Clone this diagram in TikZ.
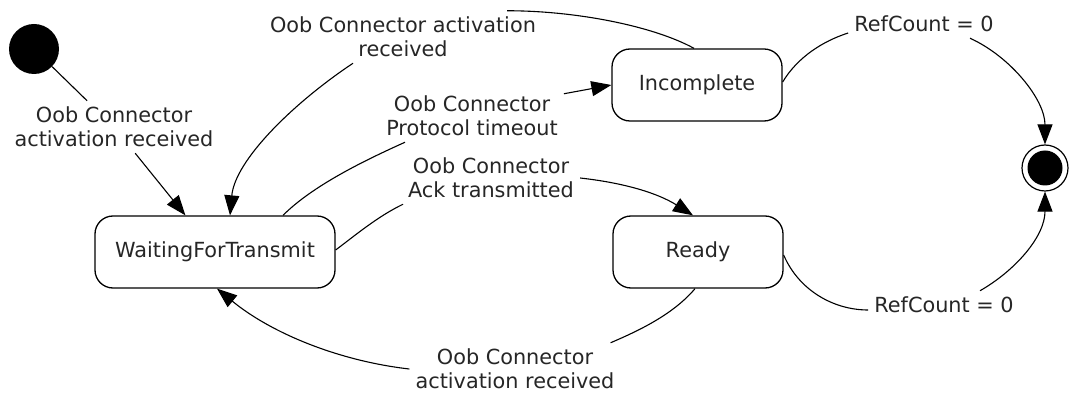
\documentclass[tikz,border=0pt]{standalone}
\usepackage{fontspec}
\setmainfont{DejaVu Sans}
\usetikzlibrary{arrows.meta}
\begin{document}
\begin{tikzpicture}[x=1pt,y=-1pt,
  lbl/.style={align=center, inner sep=6pt, text=black!85, font=\fontsize{20.8}{24}\selectfont},
  state/.style={draw, rounded corners=18pt, minimum height=72pt, line width=1.3pt, text=black!85, font=\fontsize{20.8}{24}\selectfont, inner sep=0pt},
  conn/.style={line width=1.1pt},
  arr/.style={conn, -{Triangle[length=20pt,width=15pt]}}]
\useasboundingbox (0,0) rectangle (1071,395);
% nodes
\node[circle, fill=black, minimum size=50pt, inner sep=0pt] (init) at (34,49) {};
\node[lbl] (l0) at (114,127) {Oob Connector\\activation received};
\node[state, minimum width=240pt] (wft) at (215,252) {WaitingForTransmit};
\node[lbl] (ltop) at (403,37) {Oob Connector activation\\received};
\node[state, minimum width=170pt] (inc) at (697,85) {Incomplete};
\node[lbl] (lpt) at (472,116) {Oob Connector\\Protocol timeout};
\node[lbl] (lack) at (491,178) {Oob Connector\\Ack transmitted};
\node[state, minimum width=170pt] (ready) at (698,252) {Ready};
\node[lbl] (lbot) at (515,369) {Oob Connector\\activation received};
\node[circle, draw, line width=1.2pt, minimum size=46pt, inner sep=0pt] (final) at (1045,168) {};
\fill (final.center) circle (17.5);
\node[lbl] (rc1) at (924,24) {RefCount = 0};
\node[lbl] (rc2) at (944,305) {RefCount = 0};
% connectors
\draw[conn] (init) -- (l0);
\draw[arr] (l0) -- (wft);
\draw[conn] ([xshift=-3pt]inc.north) .. controls +(-40,-22) and +(70,0) .. ([xshift=104pt]ltop.north);
\draw[arr] ([xshift=-50pt]ltop.south) .. controls +(-60,40) and +(5,-55) .. ([xshift=15pt]wft.north);
\draw[conn] ([xshift=68pt]wft.north) .. controls +(30,-30) and +(-40,18) .. ([xshift=-67pt]lpt.south);
\draw[arr] ([yshift=-4pt]lpt.north east) -- (inc.west);
\draw[conn] ([yshift=2pt]wft.east) .. controls +(20,-15) and +(-25,12) .. ([xshift=-88pt]lack.south);
\draw[arr] (lack.east) .. controls +(45,5) and +(-35,-22) .. ([xshift=-5pt]ready.north);
\draw[conn] ([xshift=-3pt]ready.south) .. controls +(-22,26) and +(28,-12) .. ([xshift=-10pt]lbot.north east);
\draw[arr] (lbot.west) .. controls +(-70,-8) and +(55,45) .. ([xshift=2pt]wft.south);
\draw[conn] ([yshift=3pt]inc.east) .. controls +(15,-25) and +(-25,8) .. ([yshift=-9pt]rc1.west);
\draw[arr] ([xshift=46pt]rc1.south) .. controls +(40,18) and +(0,-45) .. (final.north);
\draw[conn] ([yshift=-3pt]ready.east) .. controls +(15,35) and +(-35,0) .. ([yshift=-5pt]rc2.west);
\draw[arr] ([xshift=36pt]rc2.north) .. controls +(35,-20) and +(0,45) .. (final.south);
\end{tikzpicture}
\end{document}
